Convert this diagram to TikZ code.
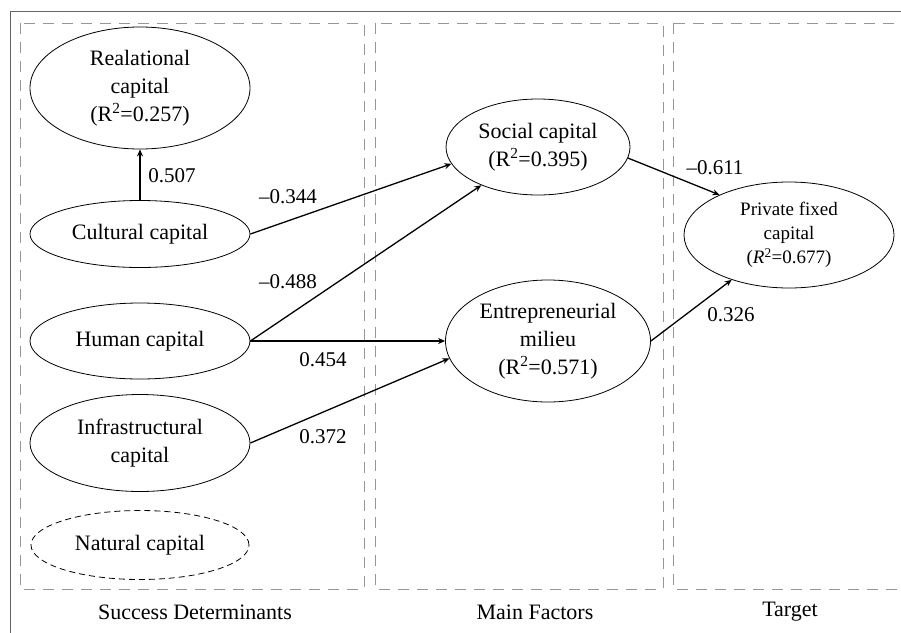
\documentclass[tikz,border=0pt]{standalone}
\usepackage{fontspec}
\setmainfont{Liberation Serif}
\usetikzlibrary{arrows.meta,shapes.geometric}
\definecolor{frameGray}{RGB}{100,100,100}
\definecolor{boxGray}{RGB}{150,150,150}
\tikzset{
  latent/.style={draw, ellipse, line width=0.8pt, inner sep=0pt, align=center, font=\fontsize{22}{28}\selectfont},
  latentdash/.style={latent, dash pattern=on 6pt off 4pt},
  target/.style={latent, font=\fontsize{19}{24}\selectfont},
  path/.style={-{Stealth[length=7pt,width=6pt]}, line width=1.3pt},
  coef/.style={font=\fontsize{21}{24}\selectfont, inner sep=0pt},
  region/.style={draw=boxGray, line width=0.9pt, dash pattern=on 11pt off 8pt},
  caption/.style={font=\fontsize{22}{26}\selectfont, inner sep=0pt}
}
\newcommand{\rsq}[1]{(R\textsuperscript{2}=#1)}

\begin{document}
\begin{tikzpicture}[x=1pt,y=-1pt]
  \useasboundingbox (0,0) rectangle (901,632);
  \clip (0,0) rectangle (901,632);
  \fill[white] (0,0) rectangle (901,632);
  \draw[frameGray, line width=0.9pt] (10,650) -- (10,11) -- (920,11);

  % three regions
  \draw[region] (20,23) rectangle (364,589);
  \draw[region] (375,23) rectangle (663,589);
  \draw[region] (673,23) rectangle (930,589);
  \node[caption] (capsd) at (195,612) {Success Determinants};
  \node[caption] (capmf) at (535,612) {Main Factors};
  \node[caption] (captg) at (790,612) {Target};

  % success determinants
  \node[latent, minimum width=220pt, minimum height=122pt] (rel) at (140,88) {Realational\\capital\\\rsq{0.257}};
  \node[latent, minimum width=220pt, minimum height=67pt] (cult) at (140,234) {Cultural capital};
  \node[latent, minimum width=220pt, minimum height=76pt] (hum) at (140,341) {Human capital};
  \node[latent, minimum width=220pt, minimum height=97pt] (infra) at (140,443) {Infrastructural\\capital};
  \node[latentdash, minimum width=218pt, minimum height=69pt] (nat) at (140,545) {Natural capital};

  % main factors
  \node[latent, minimum width=184pt, minimum height=96pt] (soc) at (538,147) {Social capital\\\rsq{0.395}};
  \node[latent, minimum width=205pt, minimum height=122pt] (entre) at (548,341) {Entrepreneurial\\milieu\\\rsq{0.571}};

  % target
  \node[target, minimum width=210pt, minimum height=106pt] (pfc) at (789,235) {Private fixed\\capital\\(\textit{R}\textsuperscript{2}=0.677)};

  \draw[path] (cult) -- (rel);
  \draw[path] (cult.east) -- (soc.191);
  \draw[path] (hum.east) -- (soc.214);
  \draw[path] (hum.east) -- (entre.west);
  \draw[path] (infra.east) -- (entre.190);
  \draw[path] (soc.353) -- (pfc.150);
  \draw[path] (entre.east) -- (pfc.218);

  \node[coef] (c507) at (172,176) {0.507};
  \node[coef] (c344) at (288,197) {--0.344};
  \node[coef] (c488) at (288,282) {--0.488};
  \node[coef] (c454) at (323,360) {0.454};
  \node[coef] (c372) at (323,437) {0.372};
  \node[coef] (c611) at (715,168) {--0.611};
  \node[coef] (c326) at (731,315) {0.326};
\end{tikzpicture}
\end{document}
